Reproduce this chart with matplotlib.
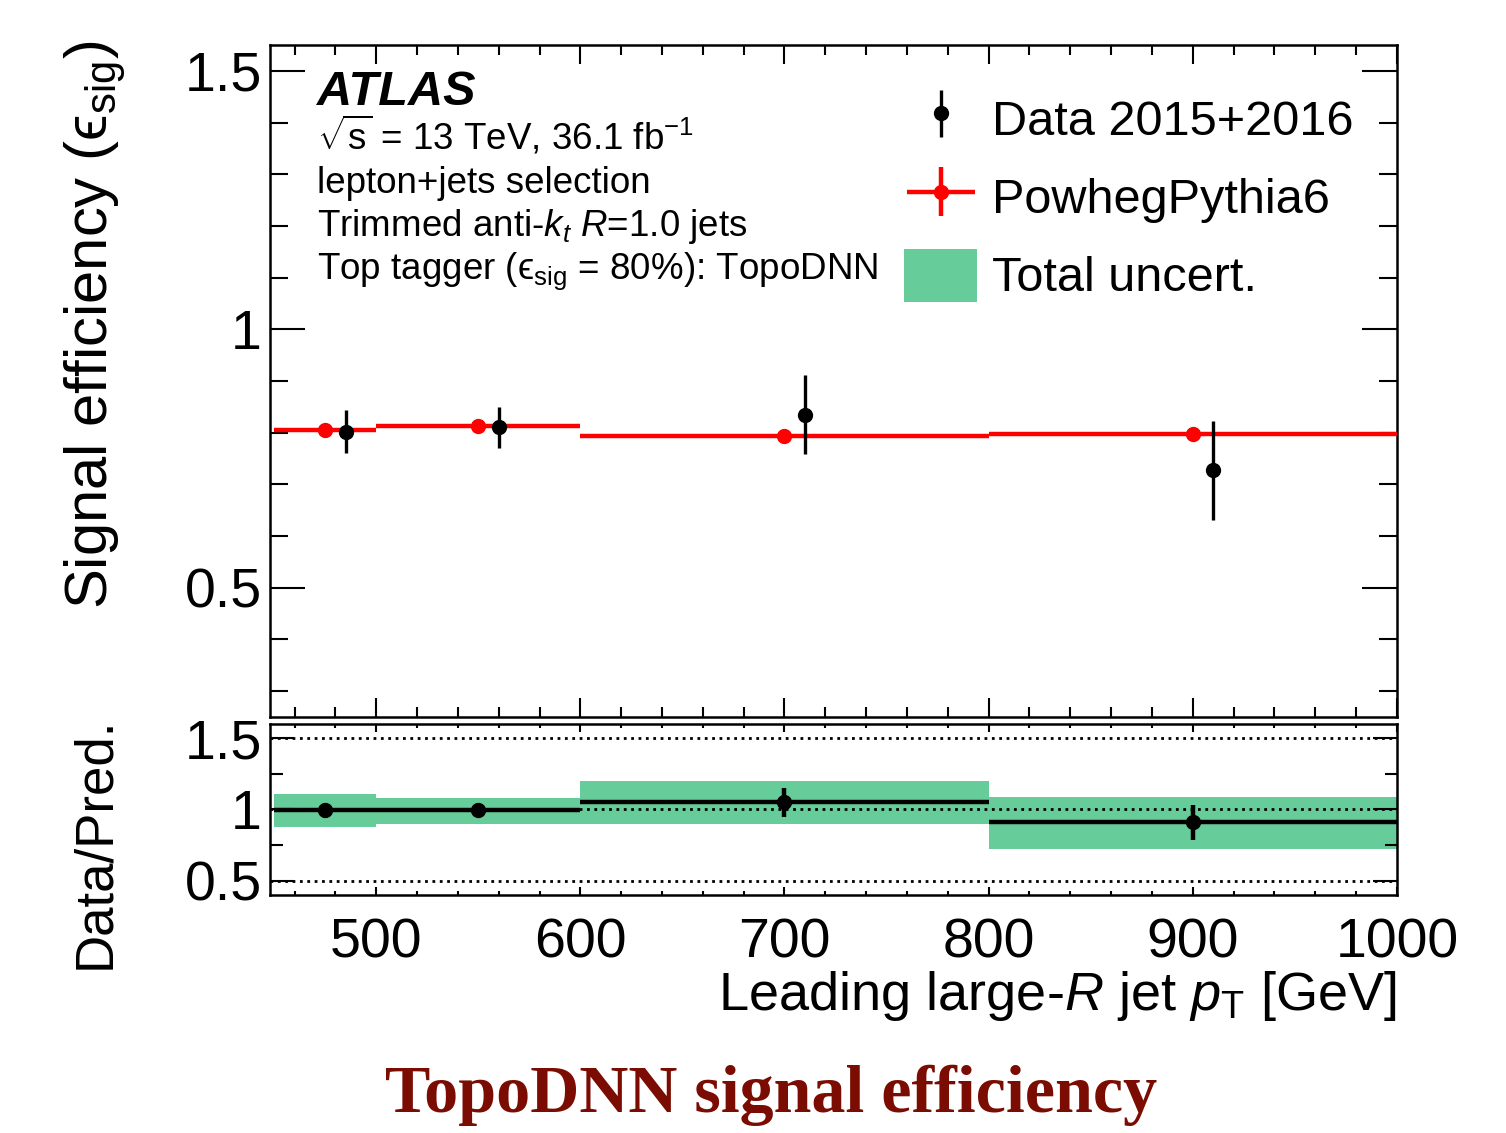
import matplotlib
matplotlib.use("Agg")
import matplotlib.pyplot as plt
from matplotlib.patches import Patch
from matplotlib.legend_handler import HandlerErrorbar
from matplotlib.ticker import MultipleLocator, FormatStrFormatter
import numpy as np

plt.rcParams['font.family'] = ['Liberation Sans', 'DejaVu Sans']
plt.rcParams['mathtext.fontset'] = 'custom'
plt.rcParams['mathtext.rm'] = 'Liberation Sans'
plt.rcParams['mathtext.it'] = 'Liberation Sans:italic'
plt.rcParams['mathtext.bf'] = 'Liberation Sans:bold'

# bins in leading large-R jet pT [GeV]
bin_lo = np.array([450, 500, 600, 800])
bin_hi = np.array([500, 600, 800, 1000])

# PowhegPythia6 efficiency
mc_eff = np.array([0.806, 0.812, 0.793, 0.798])
# Data 2015+2016 efficiency (plotted slightly shifted right)
data_eff = np.array([0.802, 0.810, 0.835, 0.727])
data_err = np.array([0.042, 0.040, 0.077, 0.095])
data_shift = 10

# Data/Pred. ratio panel
ratio = np.array([0.993, 0.993, 1.049, 0.909])
ratio_err = np.array([0.050, 0.049, 0.100, 0.120])
band_lo = np.array([0.879, 0.900, 0.900, 0.726])
band_hi = np.array([1.110, 1.082, 1.200, 1.089])

green = '#66cc99'

centers = (bin_lo + bin_hi) / 2
half = (bin_hi - bin_lo) / 2

fig = plt.figure(figsize=(15.06, 11.33), dpi=100)
ax = fig.add_axes([0.1793, 0.3672, 0.7483, 0.5931])
rax = fig.add_axes([0.1793, 0.2101, 0.7483, 0.1509])

# ---- main panel
ax.errorbar(centers, mc_eff, xerr=half, fmt='o', color='red', ms=10,
            elinewidth=3.2, capsize=0, zorder=3)
hdata = ax.errorbar(centers + data_shift, data_eff, yerr=data_err, fmt='o',
                    color='black', ms=10, elinewidth=2.4, capsize=0, zorder=4)
hmc = ax.errorbar([], [], xerr=[], yerr=[], fmt='o', color='red', ms=10,
                  elinewidth=3.2, capsize=0)
hband = Patch(facecolor=green, edgecolor='none')

ax.set_xlim(448, 1000)
ax.set_ylim(0.25, 1.55)
ax.yaxis.set_major_locator(MultipleLocator(0.5))
ax.yaxis.set_minor_locator(MultipleLocator(0.1))
ax.yaxis.set_major_formatter(FormatStrFormatter('%g'))
ax.xaxis.set_major_locator(MultipleLocator(100))
ax.xaxis.set_minor_locator(MultipleLocator(20))
ax.tick_params(axis='both', which='both', direction='in', top=True, right=True,
               width=1.5, labelsize=40)
ax.tick_params(axis='y', which='major', length=25, pad=6)
ax.tick_params(axis='y', which='minor', length=13)
ax.tick_params(axis='x', which='major', length=14)
ax.tick_params(axis='x', which='minor', length=7)
ax.tick_params(axis='x', labelbottom=False)
for s in ax.spines.values():
    s.set_linewidth(1.8)

ax.legend([hdata, hmc, hband], ['Data 2015+2016', 'PowhegPythia6', 'Total uncert.'],
          handler_map={hdata: HandlerErrorbar(yerr_size=0.48),
                       hmc: HandlerErrorbar(xerr_size=0.7, yerr_size=0.5)},
          loc='upper left', bbox_to_anchor=(0.563, 0.93), frameon=False,
          fontsize=35, handlelength=1.5, handleheight=1.3,
          handletextpad=0.3, labelspacing=0.52, borderpad=0, borderaxespad=0)

tx = 0.0417
ax.text(tx, 0.911, 'ATLAS', transform=ax.transAxes, fontsize=35,
        fontweight='bold', style='italic', va='baseline')
info = [r'$\sqrt{\mathregular{s}}$ = 13 TeV, 36.1 fb$^{\mathregular{-1}}$',
        'lepton+jets selection',
        r'Trimmed anti-$k_{t}$ $R$=1.0 jets',
        'Top tagger (ϵ$_{\\mathregular{sig}}$ = 80%): TopoDNN']
for i, line in enumerate(info):
    ax.text(tx, 0.8438 - i * 0.064, line, transform=ax.transAxes, fontsize=26.5,
            va='baseline')

# ---- ratio panel
rax.bar(bin_lo, band_hi - band_lo, bottom=band_lo, width=bin_hi - bin_lo,
        align='edge', color=green, edgecolor='none', zorder=1)
for yl in [0.5, 1.0, 1.5]:
    rax.axhline(yl, color='black', ls=':', lw=2, zorder=2)
rax.errorbar(centers, ratio, xerr=half, yerr=ratio_err, fmt='o', color='black',
             ms=10, elinewidth=3.2, capsize=0, zorder=3)
rax.set_xlim(448, 1000)
rax.set_ylim(0.4, 1.6)
rax.yaxis.set_major_locator(MultipleLocator(0.5))
rax.yaxis.set_minor_locator(MultipleLocator(0.25))
rax.yaxis.set_major_formatter(FormatStrFormatter('%g'))
rax.xaxis.set_major_locator(MultipleLocator(100))
rax.xaxis.set_minor_locator(MultipleLocator(20))
rax.tick_params(axis='both', which='both', direction='in', top=True, right=True,
                width=1.5, labelsize=40)
rax.tick_params(axis='y', which='major', length=17, pad=6)
rax.tick_params(axis='y', which='minor', length=9)
rax.tick_params(axis='x', which='major', length=6, pad=16)
rax.tick_params(axis='x', which='minor', length=3)
for s in rax.spines.values():
    s.set_linewidth(1.8)

rax.set_xlabel(r'Leading large-$R$ jet $p_{\mathregular{T}}$ [GeV]', fontsize=39,
               ha='right', x=1.0, labelpad=0)

fig.text(0.063, 0.713, 'Signal efficiency (ϵ$_{\\mathregular{sig}}$)',
         rotation=90, ha='center', va='center', fontsize=43)
fig.text(0.063, 0.256, 'Data/Pred.', rotation=90, ha='center', va='center', fontsize=38)

# caption under the plot
fig.text(0.512, 0.0185, 'TopoDNN signal efficiency', family='Liberation Serif',
         fontweight='bold', color='#7a0c02', fontsize=49, ha='center', va='baseline')

fig.savefig('out.png', dpi=100)
